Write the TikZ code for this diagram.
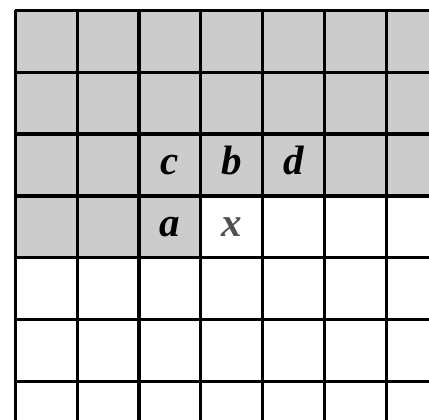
\documentclass[tikz,border=0pt]{standalone}
\usepackage{fontspec}
\setmainfont{Liberation Serif}
\definecolor{cellgray}{HTML}{CCCCCC}
\definecolor{xgray}{HTML}{505050}
\tikzset{
  gridline/.style={line width=3.2pt, black},
  lbl/.style={anchor=base, inner sep=0pt, font=\fontsize{41}{41}\selectfont\bfseries\itshape},
}
\begin{document}
\begin{tikzpicture}[x=1pt, y=-1pt]
\useasboundingbox (0,0) rectangle (429,420);
\clip (0,0) rectangle (429,420);
\def\cs{61.8}
\def\xo{15.3}
\def\yo{10.5}
% gray fill
\fill[cellgray] (\xo,\yo) rectangle (440,{\yo+3*\cs});
\fill[cellgray] (\xo,{\yo+3*\cs}) rectangle ({\xo+3*\cs},{\yo+4*\cs});
% grid lines
\foreach \i in {0,...,7} {
  \draw[gridline] ({\xo+\i*\cs},\yo) -- ({\xo+\i*\cs},440);
}
\foreach \j in {0,...,7} {
  \draw[gridline] (\xo,{\yo+\j*\cs}) -- (440,{\yo+\j*\cs});
}
% labels
\node[lbl] (c) at ({\xo+2.5*\cs},{\yo+2.5*\cs+10}) {c};
\node[lbl] (b) at ({\xo+3.5*\cs},{\yo+2.5*\cs+10}) {b};
\node[lbl] (d) at ({\xo+4.5*\cs},{\yo+2.5*\cs+10}) {d};
\node[lbl] (a) at ({\xo+2.5*\cs},{\yo+3.5*\cs+10}) {a};
\node[lbl, text=xgray] (x) at ({\xo+3.5*\cs},{\yo+3.5*\cs+10}) {x};
\end{tikzpicture}
\end{document}
